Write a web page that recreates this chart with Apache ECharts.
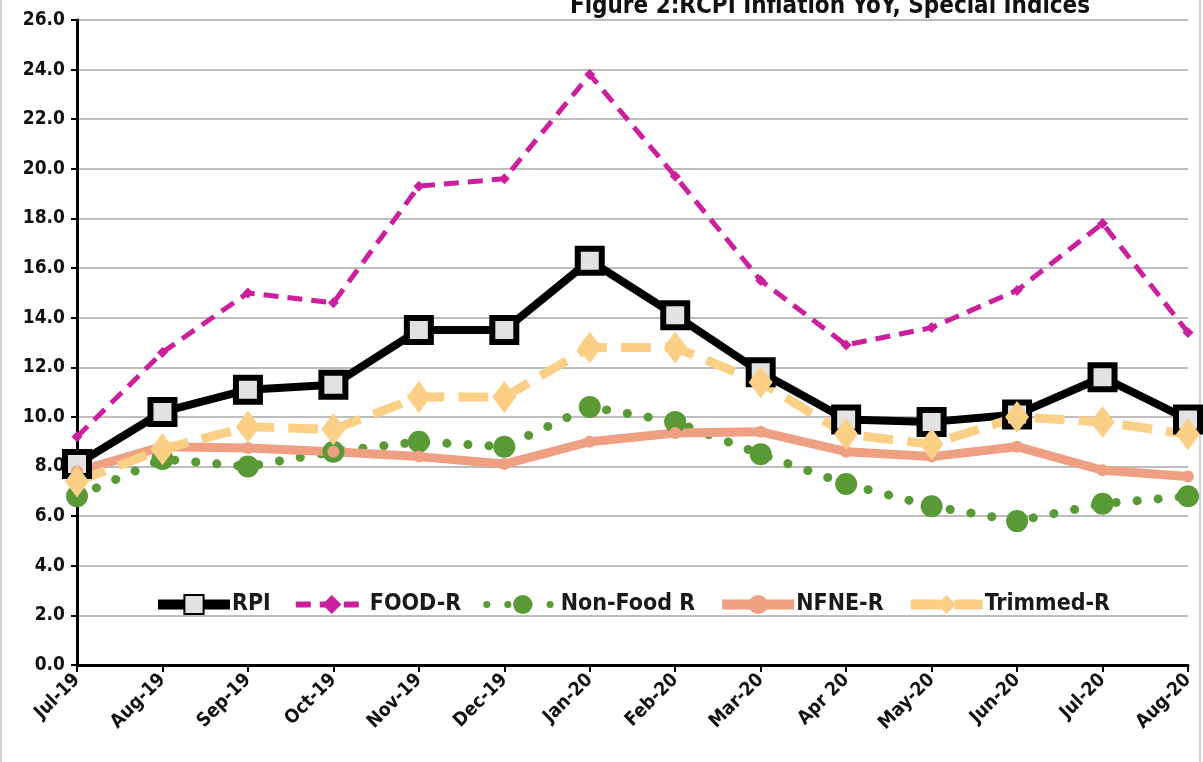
<!DOCTYPE html>
<html>
<head>
<meta charset="utf-8">
<script src="https://cdn.jsdelivr.net/npm/echarts@6/dist/echarts.min.js"></script>
<style>
  html, body { margin: 0; padding: 0; background: #fff; }
  #chart { width: 1203px; height: 762px; }
</style>
</head>
<body>
<div id="chart"></div>
<script>
// month labels along the x axis
const months = ['Jul-19', 'Aug-19', 'Sep-19', 'Oct-19', 'Nov-19', 'Dec-19', 'Jan-20',
  'Feb-20', 'Mar-20', 'Apr 20', 'May-20', 'Jun-20', 'Jul-20', 'Aug-20'];

// YoY inflation, %
const rpi = [8.1, 10.2, 11.1, 11.3, 13.5, 13.5, 16.3, 14.1, 11.8, 9.9, 9.8, 10.1, 11.6, 9.9];
const foodR = [9.2, 12.6, 15.0, 14.6, 19.3, 19.6, 23.8, 19.7, 15.5, 12.9, 13.6, 15.1, 17.8, 13.4];
const nonFoodR = [6.8, 8.3, 8.0, 8.6, 9.0, 8.8, 10.4, 9.8, 8.5, 7.3, 6.4, 5.8, 6.5, 6.8];
const nfneR = [7.8, 8.8, 8.75, 8.6, 8.4, 8.1, 9.0, 9.35, 9.4, 8.6, 8.4, 8.8, 7.85, 7.6];
const trimmedR = [7.4, 8.7, 9.6, 9.5, 10.8, 10.8, 12.8, 12.8, 11.4, 9.3, 8.9, 10.0, 9.8, 9.3];

const yTicks = { min: 0, max: 26, step: 2 };

const FONT = '"Liberation Sans Narrow", "DejaVu Sans Condensed", sans-serif';

const chart = echarts.init(document.getElementById('chart'));

chart.setOption({
  animation: false,
  backgroundColor: '#fff',
  textStyle: { fontFamily: FONT },
  title: {
    text: 'Figure 2:RCPI Inflation YoY, Special Indices',
    left: 825,
    textAlign: 'center',
    top: -10,
    textStyle: { fontFamily: FONT, fontSize: 24, fontWeight: 'bold', color: '#111' }
  },
  graphic: [{
    type: 'rect',
    shape: { x: 1, y: -2, width: 1199, height: 770 },
    style: { fill: null, stroke: '#d4d4d4', lineWidth: 2 },
    silent: true
  }],
  legend: {
    top: 588,
    left: 148,
    itemWidth: 72,
    itemHeight: 24,
    itemGap: 22,
    textStyle: { fontFamily: FONT, fontSize: 23, fontWeight: 'bold', color: '#1a1a1a', padding: [0, 0, 0, -3] },
    data: [
      { name: 'RPI', lineStyle: { width: 10 } },
      { name: 'FOOD-R', lineStyle: { width: 6 } },
      { name: 'Non-Food R', lineStyle: { width: 7 } },
      { name: 'NFNE-R', lineStyle: { width: 10 } },
      { name: 'Trimmed-R', lineStyle: { width: 10 } }
    ]
  },
  grid: { left: 77, right: 15, top: 20, bottom: 97, containLabel: false },
  xAxis: {
    type: 'category',
    data: months,
    boundaryGap: false,
    axisLine: { lineStyle: { color: '#000', width: 3 } },
    axisTick: { show: true, length: 7, lineStyle: { color: '#000', width: 2 } },
    axisLabel: {
      rotate: 45,
      fontFamily: FONT,
      fontSize: 19,
      fontWeight: 'bold',
      color: '#111',
      margin: 12,
      interval: 0
    }
  },
  yAxis: {
    type: 'value',
    min: yTicks.min,
    max: yTicks.max,
    interval: yTicks.step,
    axisLine: { show: true, lineStyle: { color: '#000', width: 3 } },
    axisTick: { show: true, length: 6, lineStyle: { color: '#000', width: 2 } },
    splitLine: { lineStyle: { color: '#bdbdbd', width: 2 } },
    axisLabel: {
      formatter: v => v.toFixed(1),
      fontFamily: FONT,
      fontSize: 19,
      fontWeight: 'bold',
      color: '#111',
      margin: 12
    }
  },
  series: [
    {
      name: 'RPI',
      type: 'line',
      data: rpi,
      symbol: 'rect',
      symbolSize: 24,
      lineStyle: { color: '#000', width: 8 },
      itemStyle: { color: '#e2e2e2', borderColor: '#000', borderWidth: 6 }
    },
    {
      name: 'FOOD-R',
      type: 'line',
      data: foodR,
      symbol: 'diamond',
      symbolSize: 11,
      lineStyle: { color: '#cc1f9e', width: 5, type: [15, 9] },
      itemStyle: { color: '#cc1f9e' }
    },
    {
      name: 'Non-Food R',
      type: 'line',
      data: nonFoodR,
      symbol: 'circle',
      symbolSize: 22,
      lineStyle: { color: '#5a9a36', width: 9, type: [0.1, 21], cap: 'round' },
      itemStyle: { color: '#5a9a36' }
    },
    {
      name: 'NFNE-R',
      type: 'line',
      data: nfneR,
      symbol: 'circle',
      symbolSize: 12,
      lineStyle: { color: '#ef9f82', width: 9 },
      itemStyle: { color: '#ef9f82' }
    },
    {
      name: 'Trimmed-R',
      type: 'line',
      data: trimmedR,
      symbol: 'diamond',
      symbolSize: [24, 32],
      lineStyle: { color: '#fccf86', width: 9, type: [30, 14] },
      itemStyle: { color: '#fccf86' }
    }
  ]
});
</script>
</body>
</html>
